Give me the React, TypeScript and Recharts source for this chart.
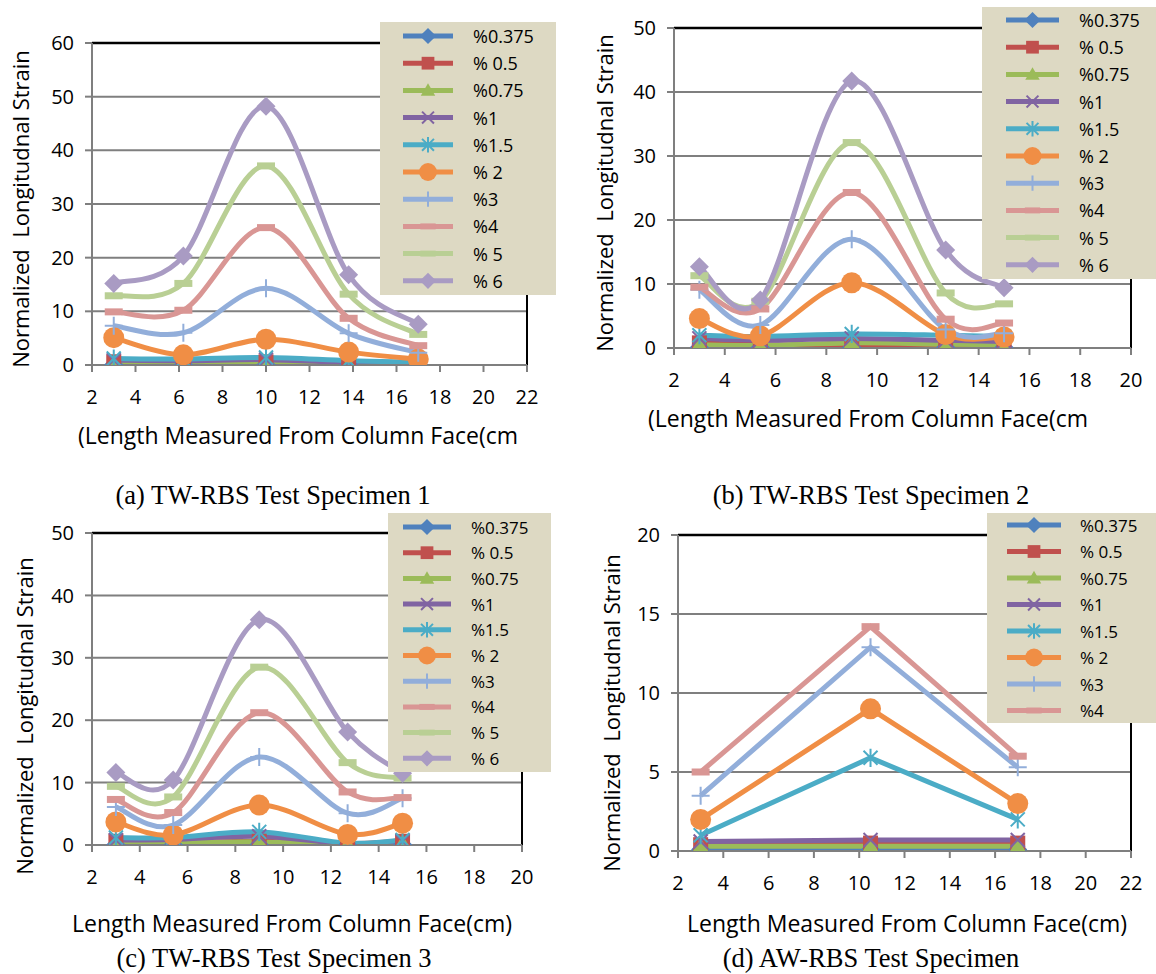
import React from 'react';
import { LineChart, Line, XAxis, YAxis, CartesianGrid, ReferenceLine } from 'recharts';

const FONT = '"Open Sans", "DejaVu Sans", sans-serif';
const SERIF = '"Liberation Serif", "Times New Roman", serif';

const seriesNames = ['%0.375', '% 0.5', '%0.75', '%1', '%1.5', '% 2', '%3', '%4', '% 5', '% 6'];
const seriesColors = ['#4F81BD', '#C0504D', '#9BBB59', '#8064A2', '#4BACC6', '#F08E45', '#92AEDA', '#D99694', '#B9CF94', '#A99BC3'];
const seriesMarks = ['diamond', 'square', 'triangle', 'cross', 'star', 'circle', 'plus', 'dash', 'dash', 'diamond'];

// (a) TW-RBS specimen 1
const spec1X = [3, 6.2, 10, 13.8, 17];
const spec1D0375 = [0.1, 0.1, 0.1, 0.05, 0.05];
const spec1D05 = [0.6, 0.5, 0.6, 0.3, 0.2];
const spec1D075 = [0.2, 0.2, 0.3, 0.1, 0.1];
const spec1D1 = [0.9, 0.8, 1.0, 0.5, 0.3];
const spec1D15 = [1.2, 1.1, 1.4, 0.8, 0.5];
const spec1D2 = [5.1, 1.9, 4.8, 2.4, 1.1];
const spec1D3 = [7.3, 6.0, 14.3, 5.9, 2.3];
const spec1D4 = [9.9, 10.2, 25.6, 8.7, 3.6];
const spec1D5 = [12.9, 15.2, 37.1, 13.2, 5.7];
const spec1D6 = [15.2, 20.3, 48.2, 16.8, 7.6];

// (b) TW-RBS specimen 2
const spec2X = [3, 5.4, 9, 12.7, 15];
const spec2D0375 = [0.1, 0.1, 0.1, 0.1, 0.1];
const spec2D05 = [0.8, 0.5, 0.4, 0.4, 0.3];
const spec2D075 = [0.5, 0.4, 0.8, 0.6, 0.5];
const spec2D1 = [1.5, 1.2, 1.5, 1.2, 1.0];
const spec2D15 = [2.0, 1.8, 2.2, 2.0, 1.8];
const spec2D2 = [4.6, 1.9, 10.2, 2.1, 1.7];
const spec2D3 = [9.1, 3.6, 17.0, 2.9, 2.3];
const spec2D4 = [9.5, 6.1, 24.3, 4.5, 3.9];
const spec2D5 = [11.3, 7.3, 32.1, 8.6, 6.9];
const spec2D6 = [12.7, 7.5, 41.7, 15.3, 9.4];

// (c) TW-RBS specimen 3
const spec3X = [3, 5.4, 9, 12.7, 15];
const spec3D0375 = [0.1, 0.1, 0.1, 0.05, 0.1];
const spec3D05 = [0.6, 0.4, 0.6, 0.2, 0.6];
const spec3D075 = [0.2, 0.3, 0.5, 0.1, 0.3];
const spec3D1 = [0.8, 0.9, 1.4, 0.2, 0.6];
const spec3D15 = [1.2, 1.2, 2.1, 0.3, 0.8];
const spec3D2 = [3.7, 1.6, 6.4, 1.7, 3.5];
const spec3D3 = [6.1, 3.2, 14.1, 5.1, 7.5];
const spec3D4 = [7.3, 5.2, 21.2, 8.5, 7.6];
const spec3D5 = [9.4, 7.7, 28.5, 13.2, 10.7];
const spec3D6 = [11.6, 10.4, 36.1, 18.1, 11.5];

// (d) AW-RBS specimen
const spec4X = [3, 10.5, 17];
const spec4D0375 = [0.1, 0.1, 0.1];
const spec4D05 = [0.4, 0.5, 0.5];
const spec4D075 = [0.3, 0.3, 0.3];
const spec4D1 = [0.6, 0.7, 0.7];
const spec4D15 = [1.0, 5.9, 2.0];
const spec4D2 = [2.0, 9.0, 3.0];
const spec4D3 = [3.5, 12.9, 5.3];
const spec4D4 = [5.0, 14.2, 6.0];

const ticks = (from: number, to: number, step: number) => {
  const out: number[] = [];
  for (let v = from; v <= to + 1e-9; v += step) out.push(v);
  return out;
};

const buildRows = (xs: number[], series: number[][]) =>
  xs.map((x, i) => {
    const row: Record<string, number> = { x };
    series.forEach((s, k) => { row['s' + k] = s[i]; });
    return row;
  });

// Excel-like smoothed line (Catmull-Rom as cubic beziers)
const excelSmooth: any = (context: any) => {
  let pts: number[][] = [];
  return {
    areaStart() {},
    areaEnd() {},
    lineStart() { pts = []; },
    point(x: number, y: number) { pts.push([+x, +y]); },
    lineEnd() {
      const n = pts.length;
      if (!n) return;
      context.moveTo(pts[0][0], pts[0][1]);
      for (let i = 0; i < n - 1; i++) {
        const p0 = pts[Math.max(i - 1, 0)];
        const p1 = pts[i];
        const p2 = pts[i + 1];
        const p3 = pts[Math.min(i + 2, n - 1)];
        const t = 1 / 6;
        context.bezierCurveTo(
          p1[0] + (p2[0] - p0[0]) * t, p1[1] + (p2[1] - p0[1]) * t,
          p2[0] - (p3[0] - p1[0]) * t, p2[1] - (p3[1] - p1[1]) * t,
          p2[0], p2[1]
        );
      }
    },
  };
};

function Mark({ shape, x, y, color, k = 1 }: { shape: string; x: number; y: number; color: string; k?: number }) {
  if (x == null || y == null) return null;
  switch (shape) {
    case 'diamond': {
      const d = 9.5 * k;
      return <path d={`M${x},${y - d}L${x + d},${y}L${x},${y + d}L${x - d},${y}Z`} fill={color} />;
    }
    case 'square': {
      const s = 7.5 * k;
      return <rect x={x - s} y={y - s} width={2 * s} height={2 * s} fill={color} />;
    }
    case 'triangle': {
      const s = 8.5 * k;
      return <path d={`M${x},${y - s}L${x + s},${y + s * 0.75}L${x - s},${y + s * 0.75}Z`} fill={color} />;
    }
    case 'cross': {
      const s = 7 * k;
      return <path d={`M${x - s},${y - s}L${x + s},${y + s}M${x - s},${y + s}L${x + s},${y - s}`} stroke={color} strokeWidth={2} />;
    }
    case 'star': {
      const s = 7 * k;
      return <path d={`M${x - s},${y - s}L${x + s},${y + s}M${x - s},${y + s}L${x + s},${y - s}M${x},${y - s * 1.3}L${x},${y + s * 1.3}`} stroke={color} strokeWidth={2} />;
    }
    case 'circle':
      return <circle cx={x} cy={y} r={10.5 * k} fill={color} />;
    case 'plus': {
      const s = 9 * k;
      return <path d={`M${x - s},${y}L${x + s},${y}M${x},${y - s}L${x},${y + s}`} stroke={color} strokeWidth={2} />;
    }
    case 'dash':
      return <rect x={x - 9 * k} y={y - 3.5 * k} width={18 * k} height={7 * k} fill={color} />;
    default:
      return null;
  }
}

type Box = { x: number; y: number; w: number; h: number };
type Plot = { l: number; t: number; r: number; b: number };

function Panel({ box, plot, xs, series, xMax, yMax, yStep, smooth }: {
  box: Box; plot: Plot; xs: number[]; series: number[][]; xMax: number; yMax: number; yStep: number; smooth: boolean;
}) {
  const rows = buildRows(xs, series);
  const margin = {
    left: plot.l - box.x - 60,
    top: plot.t - box.y,
    right: box.x + box.w - plot.r,
    bottom: box.y + box.h - plot.b - 50,
  };
  const tickStyle = { fill: '#000', fontSize: 20, fontFamily: FONT };
  return (
    <div style={{ position: 'absolute', left: box.x, top: box.y }}>
      <LineChart width={box.w} height={box.h} data={rows} margin={margin}>
        <CartesianGrid vertical={false} stroke="#7f7f7f" strokeWidth={2} />
        <XAxis
          dataKey="x"
          type="number"
          domain={[2, xMax]}
          ticks={ticks(2, xMax, 2)}
          interval={0}
          height={50}
          tick={tickStyle}
          tickSize={7}
          tickMargin={18}
          stroke="#7f7f7f"
          strokeWidth={2}
          allowDataOverflow
        />
        <YAxis
          type="number"
          domain={[0, yMax]}
          ticks={ticks(0, yMax, yStep)}
          interval={0}
          width={60}
          tick={tickStyle}
          tickSize={7}
          tickMargin={11}
          stroke="#7f7f7f"
          strokeWidth={2}
          allowDataOverflow
        />
        <ReferenceLine y={yMax} stroke="#000" strokeWidth={2.5} />
        <ReferenceLine x={xMax} stroke="#000" strokeWidth={2} />
        {series.map((_, k) => (
          <Line
            key={k}
            dataKey={'s' + k}
            type={smooth ? excelSmooth : 'linear'}
            stroke={seriesColors[k]}
            strokeWidth={5}
            dot={(p: any) => (
              <Mark key={`m${k}-${p.index}`} shape={seriesMarks[k]} x={p.cx} y={p.cy} color={seriesColors[k]} />
            )}
            activeDot={false}
            isAnimationActive={false}
          />
        ))}
      </LineChart>
    </div>
  );
}

function LegendBox({ l, t, w, h, count, first, step, swX, swW, textX, fontSize }: {
  l: number; t: number; w: number; h: number; count: number; first: number; step: number;
  swX: number; swW: number; textX: number; fontSize: number;
}) {
  return (
    <svg width={w} height={h} style={{ position: 'absolute', left: l, top: t }}>
      <rect x={0} y={0} width={w} height={h} fill="#DDD9C3" />
      {seriesNames.slice(0, count).map((name, k) => {
        const y = first + k * step;
        return (
          <g key={k}>
            <line x1={swX} x2={swX + swW} y1={y} y2={y} stroke={seriesColors[k]} strokeWidth={5} />
            <Mark shape={seriesMarks[k]} x={swX + swW / 2} y={y} color={seriesColors[k]} k={0.85} />
            <text x={textX} y={y} dominantBaseline="central" fontSize={fontSize} fontFamily={FONT} fill="#000" style={{ whiteSpace: 'pre' }}>
              {name}
            </text>
          </g>
        );
      })}
    </svg>
  );
}

function YTitle({ cx, cy }: { cx: number; cy: number }) {
  return (
    <div style={{
      position: 'absolute', left: cx, top: cy, transform: 'translate(-50%, -50%) rotate(-90deg)',
      fontFamily: FONT, fontSize: 22, whiteSpace: 'pre', color: '#000', lineHeight: 1,
    }}>
      {'Normalized  Longitudnal Strain'}
    </div>
  );
}

function Caption({ cx, cy, text, serif = false, size = 23 }: { cx: number; cy: number; text: string; serif?: boolean; size?: number }) {
  return (
    <div style={{
      position: 'absolute', left: cx, top: cy, transform: 'translate(-50%, -50%)',
      fontFamily: serif ? SERIF : FONT, fontSize: size, whiteSpace: 'pre', color: '#000', lineHeight: 1,
    }}>
      {text}
    </div>
  );
}

export default function App() {
  const s1 = [spec1D0375, spec1D05, spec1D075, spec1D1, spec1D15, spec1D2, spec1D3, spec1D4, spec1D5, spec1D6];
  const s2 = [spec2D0375, spec2D05, spec2D075, spec2D1, spec2D15, spec2D2, spec2D3, spec2D4, spec2D5, spec2D6];
  const s3 = [spec3D0375, spec3D05, spec3D075, spec3D1, spec3D15, spec3D2, spec3D3, spec3D4, spec3D5, spec3D6];
  const s4 = [spec4D0375, spec4D05, spec4D075, spec4D1, spec4D15, spec4D2, spec4D3, spec4D4];

  return (
    <div style={{ position: 'absolute', left: 0, top: 0, width: 1156, height: 974, background: '#fff', overflow: 'hidden' }}>
      <Panel box={{ x: 0, y: 0, w: 580, h: 470 }} plot={{ l: 92, t: 43, r: 527, b: 365 }} xs={spec1X} series={s1} xMax={22} yMax={60} yStep={10} smooth />
      <Panel box={{ x: 578, y: 0, w: 578, h: 470 }} plot={{ l: 674, t: 28, r: 1131, b: 348 }} xs={spec2X} series={s2} xMax={20} yMax={50} yStep={10} smooth />
      <Panel box={{ x: 0, y: 480, w: 580, h: 494 }} plot={{ l: 92, t: 533, r: 522, b: 845 }} xs={spec3X} series={s3} xMax={20} yMax={50} yStep={10} smooth />
      <Panel box={{ x: 578, y: 480, w: 578, h: 494 }} plot={{ l: 678, t: 535, r: 1131, b: 851 }} xs={spec4X} series={s4} xMax={22} yMax={20} yStep={5} smooth={false} />

      <LegendBox l={380} t={22} w={176} h={273} count={10} first={14} step={27.2} swX={23} swW={50} textX={93} fontSize={18} />
      <LegendBox l={982} t={7} w={174} h={272} count={10} first={13} step={27.2} swX={24} swW={53} textX={97} fontSize={18} />
      <LegendBox l={388} t={513} w={163} h={259} count={10} first={14} step={25.7} swX={15} swW={48} textX={83} fontSize={17} />
      <LegendBox l={987} t={513} w={169} h={210} count={8} first={12} step={26.5} swX={20} swW={54} textX={93} fontSize={17} />

      <YTitle cx={20} cy={209} />
      <YTitle cx={604} cy={193} />
      <YTitle cx={24} cy={716} />
      <YTitle cx={611} cy={713} />

      <Caption cx={298} cy={435} text="(Length Measured From Column Face(cm" />
      <Caption cx={868} cy={418} text="(Length Measured From Column Face(cm" />
      <Caption cx={292} cy={923} text="Length Measured From Column Face(cm)" />
      <Caption cx={907} cy={923} text="Length Measured From Column Face(cm)" />

      <Caption cx={273} cy={495} text="(a) TW-RBS Test Specimen 1" serif size={26.5} />
      <Caption cx={871} cy={495} text="(b) TW-RBS Test Specimen 2" serif size={26.5} />
      <Caption cx={274} cy={958} text="(c) TW-RBS Test Specimen 3" serif size={26.5} />
      <Caption cx={871} cy={958} text="(d) AW-RBS Test Specimen" serif size={26.5} />
    </div>
  );
}
